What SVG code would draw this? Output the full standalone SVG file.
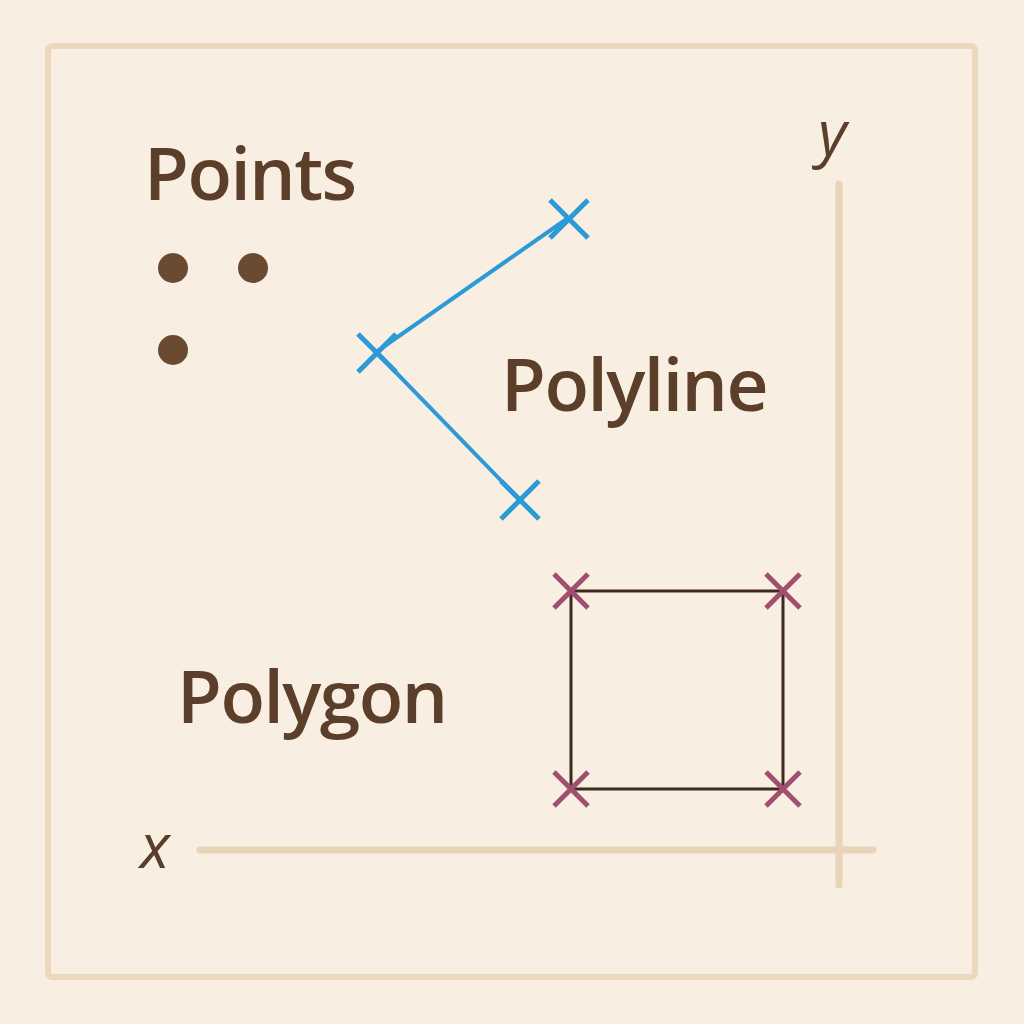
<svg xmlns="http://www.w3.org/2000/svg" width="1024" height="1024" viewBox="0 0 1024 1024">
<style>
.lbl{font-family:"Open Sans","Noto Sans","Liberation Sans",sans-serif;font-weight:600;fill:#5c3f2a;font-size:73px;letter-spacing:-1.5px}
.ax{font-family:"Open Sans","Liberation Sans",sans-serif;font-style:italic;fill:#5c3f2a;font-size:62px}
.axis{stroke:#e8d4b8;stroke-width:7;stroke-linecap:round;fill:none}
.blue{stroke:#2b9ad6;stroke-width:4;fill:none}
.bx{stroke:#2b9ad6;stroke-width:5;fill:none}
.mx{stroke:#a0506e;stroke-width:5;fill:none}
.dot{fill:#6a4a30}
</style>
<rect width="1024" height="1024" fill="#f9eee2"/>
<rect x="48" y="46" width="927" height="931" rx="4" fill="#f9eee2" stroke="#ebd8bf" stroke-width="6"/>
<g id="axes">
<line class="axis" x1="200" y1="850" x2="873" y2="850"/>
<line class="axis" x1="839" y1="184" x2="839" y2="885"/>
<text class="ax" x="140" y="868">x</text>
<text class="ax" x="818" y="155">y</text>
</g>
<g id="points">
<text class="lbl" x="144" y="200">Points</text>
<circle class="dot" cx="173" cy="268" r="15"/>
<circle class="dot" cx="253" cy="268" r="15"/>
<circle class="dot" cx="173" cy="350" r="15"/>
</g>
<g id="polyline">
<polyline class="blue" points="568,218 376,352 519,499"/>
<path class="bx" d="M550,200L588,238M588,200L550,238M358,334L396,372M396,334L358,372M501,481L539,519M539,481L501,519"/>
<text class="lbl" x="501" y="411">Polyline</text>
</g>
<g id="polygon">
<rect x="571" y="591" width="212" height="198" fill="none" stroke="#3f2a1c" stroke-width="3"/>
<path class="mx" d="M554,574L588,608M588,574L554,608M766,574L800,608M800,574L766,608M554,772L588,806M588,772L554,806M766,772L800,806M800,772L766,806"/>
<text class="lbl" x="177" y="723">Polygon</text>
</g>
</svg>
